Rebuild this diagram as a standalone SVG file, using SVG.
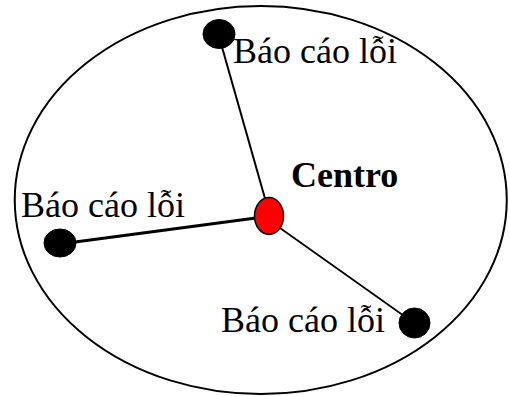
<svg xmlns="http://www.w3.org/2000/svg" width="510" height="396" viewBox="0 0 510 396">
<style>
.lbl{font-family:"Liberation Serif","Times New Roman",serif;font-size:36px;fill:#000}
.bold{font-weight:bold}
.dot{fill:#000;stroke:#000;stroke-width:1}
.ln{stroke:#000;fill:none}
</style>
<rect width="510" height="396" fill="#fff"/>
<g id="boundary">
<ellipse cx="260.75" cy="200" rx="246" ry="194" fill="none" stroke="#000" stroke-width="2"/>
</g>
<g id="connectors">
<line class="ln" x1="220" y1="40" x2="266" y2="202" stroke-width="2"/>
<line class="ln" x1="60" y1="244" x2="256" y2="218" stroke-width="3"/>
<line class="ln" x1="280" y1="228" x2="414" y2="323" stroke-width="1.7"/>
</g>
<g id="node-top">
<ellipse class="dot" cx="219" cy="34" rx="16" ry="14.5"/>
<text class="lbl" x="233" y="63">Báo cáo lỗi</text>
</g>
<g id="node-left">
<ellipse class="dot" cx="60" cy="243" rx="16" ry="14"/>
<text class="lbl" x="21" y="217">Báo cáo lỗi</text>
</g>
<g id="node-bottom">
<ellipse class="dot" cx="414.5" cy="323" rx="15.5" ry="15"/>
<text class="lbl" x="221" y="332">Báo cáo lỗi</text>
</g>
<g id="node-centro">
<ellipse cx="269" cy="216" rx="14.5" ry="18.5" fill="#f00" stroke="#000" stroke-width="1.5"/>
<text class="lbl bold" x="291" y="187">Centro</text>
</g>
</svg>
